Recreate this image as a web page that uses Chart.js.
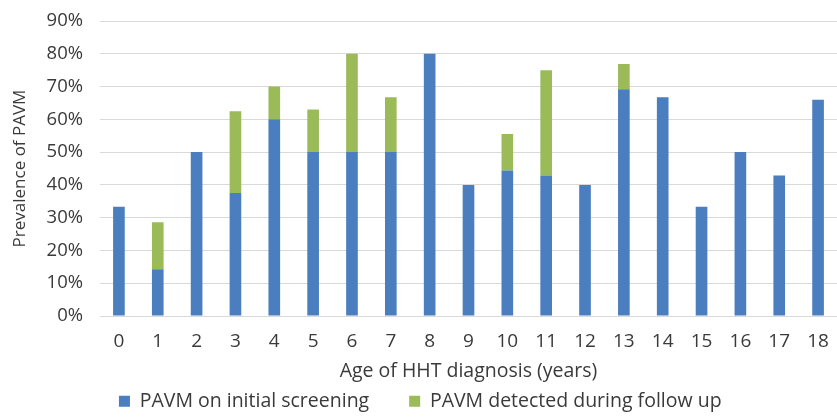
<!DOCTYPE html>
<html>
<head>
<meta charset="utf-8">
<script src="https://cdn.jsdelivr.net/npm/chart.js@4/dist/chart.umd.min.js"></script>
<style>
  html, body { margin: 0; padding: 0; background: #fff; overflow: hidden; }
  #wrap { width: 843px; height: 419px; }
</style>
</head>
<body>
<div id="wrap"><canvas id="chart"></canvas></div>
<script>
const ages = ['0', '1', '2', '3', '4', '5', '6', '7', '8', '9', '10', '11', '12', '13', '14', '15', '16', '17', '18'];
const initialScreening = [33.3, 14.3, 50, 37.5, 60, 50, 50, 50, 80, 40, 44.4, 42.9, 40, 69.2, 66.7, 33.3, 50, 42.9, 66];
const followUp = [0, 14.3, 0, 25, 10, 13, 30, 16.7, 0, 0, 11.1, 32.1, 0, 7.7, 0, 0, 0, 0, 0];
const yTicks = [0, 10, 20, 30, 40, 50, 60, 70, 80, 90];

const textColor = '#3a3a3a';
const sans = '"Open Sans", "Liberation Sans", Arial, sans-serif';

const ctx = document.getElementById('chart').getContext('2d');
new Chart(ctx, {
  type: 'bar',
  data: {
    labels: ages,
    datasets: [
      {
        label: 'PAVM on initial screening',
        data: initialScreening,
        backgroundColor: '#4a7ebf',
        barPercentage: 0.3,
        categoryPercentage: 1,
      },
      {
        label: 'PAVM detected during follow up',
        data: followUp,
        backgroundColor: '#9bbb59',
        barPercentage: 0.3,
        categoryPercentage: 1,
      },
    ],
  },
  options: {
    responsive: true,
    maintainAspectRatio: false,
    animation: false,
    layout: { padding: { top: 21, left: 0, right: 2.5, bottom: -2 } },
    plugins: {
      tooltip: { enabled: false },
      legend: {
        position: 'bottom',
        labels: {
          boxWidth: 11,
          boxHeight: 11,
          padding: 40,
          color: textColor,
          font: { family: sans, size: 19.5 },
        },
      },
    },
    scales: {
      x: {
        stacked: true,
        grid: { display: false, drawTicks: false },
        border: { display: false },
        afterFit: (scale) => {
          scale.height = 35.5;
        },
        ticks: {
          padding: 14,
          color: textColor,
          font: { family: sans, size: 19 },
          maxRotation: 0,
        },
        title: {
          display: true,
          text: 'Age of HHT diagnosis (years)',
          color: textColor,
          font: { family: sans, size: 19.5 },
          // the title sits inside the legend's top padding
          padding: { top: 10, bottom: -32 },
        },
      },
      y: {
        stacked: true,
        min: 0,
        max: 90,
        afterBuildTicks: (scale) => {
          scale.ticks = yTicks.map((v) => ({ value: v }));
        },
        afterFit: (scale) => {
          scale.width = 99.5;
          scale.paddingTop = 0;
          scale.paddingBottom = 0;
        },
        grid: { color: '#d9d9d9', drawTicks: false },
        border: { display: false },
        ticks: {
          padding: 16.5,
          color: textColor,
          font: { family: sans, size: 18.5 },
          callback: (v) => v + '%',
        },
        title: {
          display: true,
          text: 'Prevalence of PAVM',
          color: textColor,
          font: { family: sans, size: 17 },
          padding: { top: 10, bottom: 0 },
        },
      },
    },
  },
});
</script>
</body>
</html>
